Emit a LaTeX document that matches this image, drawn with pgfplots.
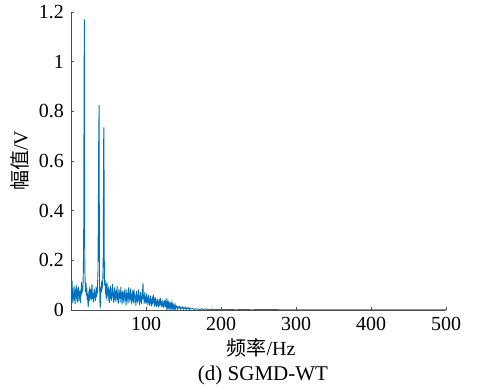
\documentclass[border=0pt]{standalone}
\usepackage{fontspec}
\setmainfont{Liberation Serif}
\newfontfamily\cjk{Noto Sans CJK SC}
\usepackage{pgfplots}
\pgfplotsset{compat=1.18}
\definecolor{mblue}{rgb}{0,0.447,0.741}
\begin{document}
\begin{tikzpicture}
\useasboundingbox (-35.5pt,-39.5pt) rectangle (205pt,155pt);
\begin{axis}[
  scale only axis, width=187.5pt, height=149pt,
  at={(0,0)}, anchor=south west,
  xmin=0, xmax=500, ymin=0, ymax=1.2,
  axis x line*=bottom, axis y line*=left,
  axis line style={draw=black!70, line width=0.4pt},
  xtick={100,200,300,400,500},
  ytick={0,0.2,0.4,0.6,0.8,1,1.2},
  tick align=inside, major tick length=1.5pt,
  tick style={draw=black!70, line width=0.4pt},
  /pgf/number format/assume math mode=true,
  ticklabel style={font=\fontsize{10}{12}\selectfont},
]
\addplot[color=mblue, line width=0.45pt, mark=none] coordinates {
(0,0.035)(0.5,0.062)(1,0.041)(1.5,0.118)(2,0.052)(2.5,0.028)(3,0.071)(3.5,0.045)(4,0.098)(4.5,0.038)
(5,0.067)(5.5,0.024)(6,0.085)(6.5,0.051)(7,0.102)(7.5,0.043)(8,0.074)(8.5,0.031)(9,0.088)(9.5,0.056)
(10,0.094)(10.5,0.037)(11,0.079)(11.5,0.048)(12,0.062)(12.5,0.029)(13,0.083)(13.5,0.057)(14,0.112)(14.5,0.066)
(15,0.091)(15.5,0.074)(16,0.102)(16.5,0.158)(17,0.35)(17.25,0.69)(17.5,0.93)(17.75,1.17)(18,0.69)(18.25,0.28)
(18.5,0.16)(19,0.098)(19.5,0.072)(20,0.11)(20.5,0.058)(21,0.089)(21.5,0.041)(22,0.067)(22.5,0.032)(23,0.012)
(23.5,0.054)(24,0.078)(24.5,0.036)(25,0.092)(25.5,0.061)(26,0.047)(26.5,0.083)(27,0.039)(27.5,0.072)(28,0.105)
(28.5,0.056)(29,0.044)(29.5,0.069)(30,0.031)(30.5,0.058)(31,0.086)(31.5,0.048)(32,0.071)(32.5,0.037)(33,0.062)
(33.5,0.094)(34,0.052)(34.5,0.078)(35,0.064)(35.5,0.11)(36,0.16)(36.5,0.41)(37,0.72)(37.5,0.825)(37.75,0.40)
(38,0.12)(38.5,0.035)(39,0.008)(39.5,0.062)(40,0.094)(40.5,0.071)(41,0.118)(41.5,0.083)(42,0.102)(42.5,0.13)
(43,0.22)(43.5,0.66)(43.75,0.735)(44,0.66)(44.25,0.30)(44.5,0.13)(45,0.098)(45.5,0.121)(46,0.064)(46.5,0.105)
(47,0.043)(47.5,0.087)(48,0.112)(48.5,0.058)(49,0.079)(49.5,0.036)(50,0.094)(50.5,0.052)(51,0.081)(51.5,0.029)
(52,0.067)(52.5,0.098)(53,0.045)(53.5,0.073)(54,0.038)(54.5,0.088)(55,0.056)(55.5,0.104)(56,0.049)(56.5,0.071)
(57,0.027)(57.5,0.063)(58,0.091)(58.5,0.042)(59,0.076)(59.5,0.054)(60,0.033)(60.5,0.082)(61,0.058)(61.5,0.097)
(62,0.041)(62.5,0.066)(63,0.024)(63.5,0.057)(64,0.085)(64.5,0.046)(65,0.072)(65.5,0.031)(66,0.061)(66.5,0.093)
(67,0.048)(67.5,0.069)(68,0.022)(68.5,0.054)(69,0.078)(69.5,0.039)(70,0.063)(70.5,0.028)(71,0.074)(71.5,0.051)
(72,0.087)(72.5,0.036)(73,0.062)(73.5,0.019)(74,0.056)(74.5,0.081)(75,0.043)(75.5,0.068)(76,0.026)(76.5,0.059)
(77,0.092)(77.5,0.044)(78,0.071)(78.5,0.033)(79,0.058)(79.5,0.086)(80,0.041)(80.5,0.064)(81,0.023)(81.5,0.052)
(82,0.079)(82.5,0.037)(83,0.061)(83.5,0.029)(84,0.084)(84.5,0.046)(85,0.068)(85.5,0.031)(86,0.057)(86.5,0.018)
(87,0.049)(87.5,0.076)(88,0.035)(88.5,0.062)(89,0.027)(89.5,0.054)(90,0.083)(90.5,0.039)(91,0.058)(91.5,0.021)
(92,0.047)(92.5,0.072)(93,0.034)(93.5,0.056)(94,0.025)(94.5,0.064)(95,0.041)(95.5,0.079)(96,0.108)(96.5,0.045)
(97,0.062)(97.5,0.026)(98,0.051)(98.5,0.073)(99,0.032)(99.5,0.055)(100,0.024)(100.5,0.047)(101,0.066)(101.5,0.031)
(102,0.052)(102.5,0.019)(103,0.043)(103.5,0.061)(104,0.028)(104.5,0.046)(105,0.017)(105.5,0.039)(106,0.058)(106.5,0.026)
(107,0.044)(107.5,0.015)(108,0.036)(108.5,0.054)(109,0.023)(109.5,0.041)(110,0.062)(110.5,0.029)(111,0.047)(111.5,0.014)
(112,0.033)(112.5,0.051)(113,0.021)(113.5,0.038)(114,0.012)(114.5,0.031)(115,0.046)(115.5,0.019)(116,0.035)(116.5,0.011)
(117,0.028)(117.5,0.043)(118,0.017)(118.5,0.032)(119,0.049)(119.5,0.021)(120,0.036)(120.5,0.013)(121,0.029)(121.5,0.041)
(122,0.016)(122.5,0.031)(123,0.009)(123.5,0.024)(124,0.038)(124.5,0.015)(125,0.027)(125.5,0.042)(126,0.012)(126.5,0.025)
(127,0.034)(127.5,0.011)(128,0.022)(128.5,0.031)(129,0.009)(129.5,0.019)(130,0.028)(130.5,0.011)(131,0.021)(131.5,0.026)
(132,0.008)(132.5,0.017)(133,0.024)(133.5,0.009)(134,0.016)(134.5,0.027)(135,0.006)(135.5,0.014)(136,0.021)(136.5,0.007)
(137,0.013)(137.5,0.019)(138,0.005)(138.5,0.012)(139,0.018)(139.5,0.006)(140,0.011)(141,0.016)(142,0.005)(143,0.013)
(144,0.008)(145,0.014)(146,0.004)(147,0.011)(148,0.007)(149,0.012)(150,0.004)(151,0.009)(152,0.006)(153,0.011)
(154,0.003)(155,0.008)(156,0.005)(157,0.009)(158,0.003)(159,0.007)(160,0.004)(162,0.006)(164,0.002)(166,0.005)
(168,0.003)(170,0.004)(172,0.002)(174,0.005)(176,0.002)(178,0.003)(180,0.004)(182,0.001)(184,0.003)(186,0.002)
(188,0.004)(190,0.001)(193,0.003)(196,0.002)(200,0.003)(205,0.001)(210,0.002)(220,0.001)(230,0.002)(240,0.001)
(260,0.002)(280,0.001)(300,0.001)(350,0.001)(400,0.001)(450,0.001)(500,0.001)
};
\end{axis}
\node[rotate=90, font=\fontsize{10}{12}\selectfont] at (-25.5pt,74.5pt) {{\cjk 幅值}/V};
\node[font=\fontsize{10}{12}\selectfont] at (95pt,-19pt) {{\cjk 频率}/Hz};
\node[font=\fontsize{10.5}{12}\selectfont] at (96pt,-32.5pt) {(d) SGMD-WT};
\end{tikzpicture}
\end{document}
